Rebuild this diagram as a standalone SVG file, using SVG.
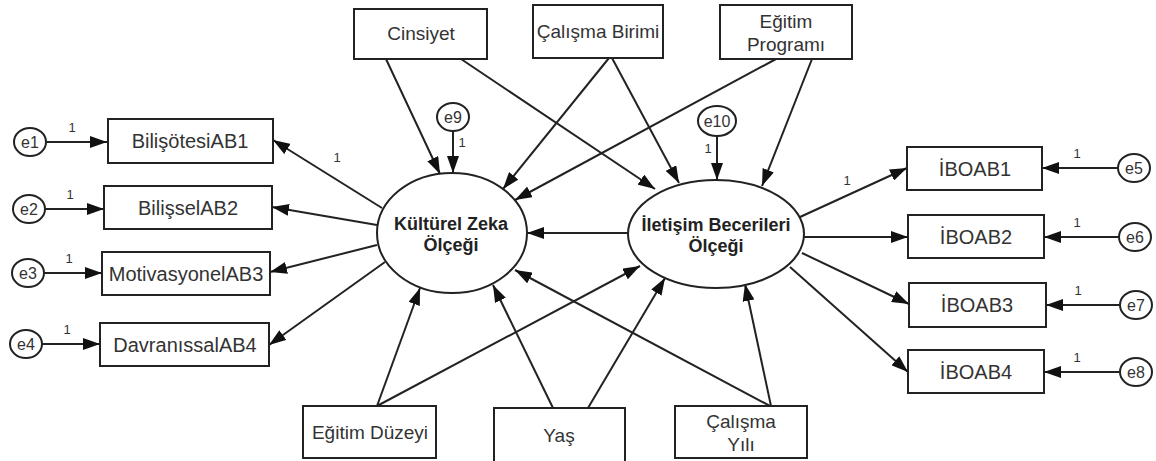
<svg xmlns="http://www.w3.org/2000/svg" width="1156" height="461" viewBox="0 0 1156 461">
<style>
.box{fill:#fff;stroke:#222;stroke-width:2}
.err{fill:#fff;stroke:#222;stroke-width:2}
.lat{fill:#fff;stroke:#222;stroke-width:2}
.t{font-family:"Liberation Sans",Arial,sans-serif;font-size:19px;fill:#333;text-anchor:middle}
.t2{font-family:"Liberation Sans",Arial,sans-serif;font-size:20px;fill:#333;text-anchor:middle}
.tb{font-family:"Liberation Sans",Arial,sans-serif;font-size:18px;font-weight:bold;fill:#222;text-anchor:middle}
.te{font-family:"Liberation Sans",Arial,sans-serif;font-size:16px;fill:#333;text-anchor:middle}
.one{font-family:"Liberation Sans",Arial,sans-serif;font-size:13px;fill:#333;text-anchor:middle}
.c line{stroke:#222;stroke-width:2;marker-end:url(#ah)}
</style>
<defs>
<marker id="ah" markerUnits="userSpaceOnUse" markerWidth="18" markerHeight="12" refX="17" refY="6" orient="auto">
<path d="M0,0 L17,6 L0,12 z" fill="#111"/>
</marker>
</defs>
<rect width="1156" height="461" fill="#fff"/>
<g class="c" id="connectors">
<line x1="46" y1="142" x2="107" y2="142"/>
<line x1="45" y1="209" x2="104" y2="209"/>
<line x1="44" y1="273" x2="102" y2="273"/>
<line x1="42" y1="344" x2="100" y2="344"/>
<line x1="1118" y1="168" x2="1042" y2="168"/>
<line x1="1119" y1="237" x2="1044" y2="237"/>
<line x1="1120" y1="305" x2="1046" y2="305"/>
<line x1="1120" y1="372" x2="1044" y2="372"/>
<line x1="382" y1="208" x2="273" y2="140"/>
<line x1="377" y1="225" x2="272" y2="207"/>
<line x1="377" y1="245" x2="270" y2="272"/>
<line x1="385" y1="262" x2="269" y2="345"/>
<line x1="800" y1="217" x2="907" y2="168"/>
<line x1="803" y1="237" x2="908" y2="237"/>
<line x1="802" y1="253" x2="909" y2="304"/>
<line x1="790" y1="267" x2="908" y2="372"/>
<line x1="386" y1="59" x2="440" y2="174"/>
<line x1="461" y1="59" x2="655" y2="189"/>
<line x1="609" y1="58" x2="503" y2="189"/>
<line x1="612" y1="58" x2="679" y2="183"/>
<line x1="776" y1="59" x2="515" y2="200"/>
<line x1="812" y1="59" x2="762" y2="186"/>
<line x1="453" y1="131" x2="453" y2="173"/>
<line x1="717" y1="136" x2="717" y2="180"/>
<line x1="628" y1="233" x2="527" y2="233"/>
<line x1="377" y1="406" x2="420" y2="288"/>
<line x1="377" y1="406" x2="640" y2="266"/>
<line x1="553" y1="408" x2="493" y2="285"/>
<line x1="588" y1="408" x2="665" y2="278"/>
<line x1="770" y1="406" x2="515" y2="270"/>
<line x1="771" y1="406" x2="745" y2="284"/>
</g>
<g id="labels1">
<text class="one" x="72" y="132">1</text>
<text class="one" x="70" y="199">1</text>
<text class="one" x="69" y="263">1</text>
<text class="one" x="67" y="334">1</text>
<text class="one" x="1077" y="158">1</text>
<text class="one" x="1077" y="227">1</text>
<text class="one" x="1078" y="295">1</text>
<text class="one" x="1077" y="362">1</text>
<text class="one" x="337" y="162">1</text>
<text class="one" x="847" y="185">1</text>
<text class="one" x="462" y="147">1</text>
<text class="one" x="708" y="153">1</text>
</g>
<g id="KZ"><ellipse class="lat" cx="452" cy="233" rx="75" ry="60"/>
<text class="tb" x="451" y="230">Kültürel Zeka</text><text class="tb" x="451" y="251">Ölçeği</text></g>
<g id="IBO"><ellipse class="lat" cx="716" cy="234" rx="88" ry="54"/>
<text class="tb" x="716" y="231">İletişim Becerileri</text><text class="tb" x="716" y="252">Ölçeği</text></g>
<g id="n_cinsiyet"><rect class="box" x="354" y="9" width="133" height="50"/><text class="t" x="421" y="40">Cinsiyet</text></g>
<g id="n_birim"><rect class="box" x="533" y="5" width="130" height="53"/><text class="t" x="598" y="38">Çalışma Birimi</text></g>
<g id="n_program"><rect class="box" x="720" y="5" width="132" height="54"/><text class="t" x="786" y="28">Eğitim</text><text class="t" x="786" y="51">Programı</text></g>
<g id="n_duzey"><rect class="box" x="303" y="406" width="133" height="52"/><text class="t" x="370" y="439">Eğitim Düzeyi</text></g>
<g id="n_yas"><rect class="box" x="494" y="408" width="131" height="54"/><text class="t" x="559" y="442">Yaş</text></g>
<g id="n_yil"><rect class="box" x="675" y="406" width="132" height="52"/><text class="t" x="741" y="428">Çalışma</text><text class="t" x="741" y="451">Yılı</text></g>
<g id="n_ab1"><rect class="box" x="108" y="119" width="165" height="44"/><text class="t2" x="190" y="148">BilişötesiAB1</text></g>
<g id="n_ab2"><rect class="box" x="104" y="186" width="168" height="43"/><text class="t2" x="188" y="215">BilişselAB2</text></g>
<g id="n_ab3"><rect class="box" x="102" y="252" width="168" height="43"/><text class="t2" x="186" y="281">MotivasyonelAB3</text></g>
<g id="n_ab4"><rect class="box" x="100" y="323" width="169" height="43"/><text class="t2" x="185" y="352">DavranıssalAB4</text></g>
<g id="n_ibo1"><rect class="box" x="907" y="147" width="135" height="43"/><text class="t2" x="975" y="176">İBOAB1</text></g>
<g id="n_ibo2"><rect class="box" x="908" y="215" width="136" height="43"/><text class="t2" x="976" y="244">İBOAB2</text></g>
<g id="n_ibo3"><rect class="box" x="909" y="283" width="137" height="44"/><text class="t2" x="977" y="312">İBOAB3</text></g>
<g id="n_ibo4"><rect class="box" x="908" y="350" width="136" height="43"/><text class="t2" x="976" y="379">İBOAB4</text></g>
<g id="e1"><ellipse class="err" cx="30" cy="142" rx="16" ry="14"/><text class="te" x="30" y="148">e1</text></g>
<g id="e2"><ellipse class="err" cx="29" cy="209" rx="16" ry="14"/><text class="te" x="29" y="215">e2</text></g>
<g id="e3"><ellipse class="err" cx="28" cy="273" rx="16" ry="14"/><text class="te" x="28" y="279">e3</text></g>
<g id="e4"><ellipse class="err" cx="26" cy="344" rx="16" ry="14"/><text class="te" x="26" y="350">e4</text></g>
<g id="e5"><ellipse class="err" cx="1134" cy="168" rx="16" ry="14"/><text class="te" x="1134" y="174">e5</text></g>
<g id="e6"><ellipse class="err" cx="1135" cy="237" rx="16" ry="14"/><text class="te" x="1135" y="243">e6</text></g>
<g id="e7"><ellipse class="err" cx="1136" cy="305" rx="16" ry="14"/><text class="te" x="1136" y="311">e7</text></g>
<g id="e8"><ellipse class="err" cx="1136" cy="372" rx="16" ry="14"/><text class="te" x="1136" y="378">e8</text></g>
<g id="e9"><ellipse class="err" cx="453" cy="117" rx="16" ry="14"/><text class="te" x="453" y="123">e9</text></g>
<g id="e10"><ellipse class="err" cx="717" cy="121" rx="19" ry="15"/><text class="te" x="717" y="127">e10</text></g>
</svg>
